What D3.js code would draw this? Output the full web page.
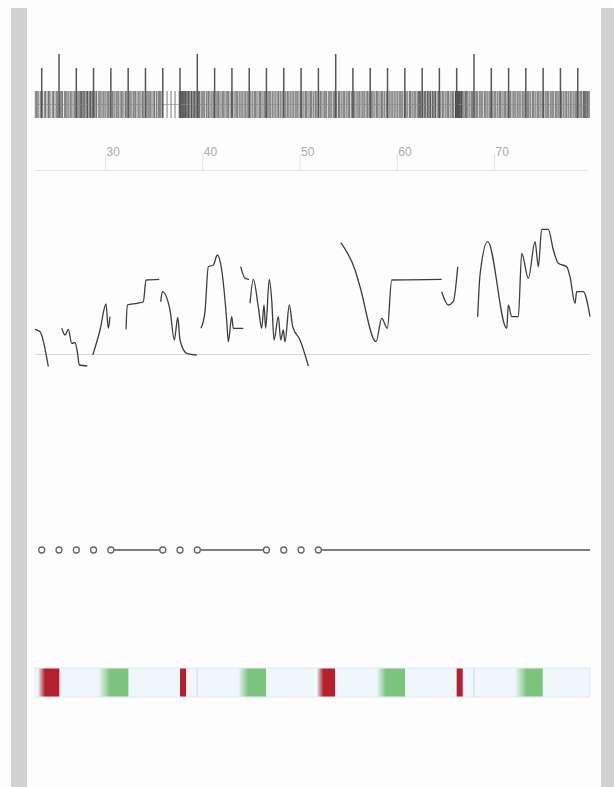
<!DOCTYPE html>
<html>
<head>
<meta charset="utf-8">
<script src="https://cdn.jsdelivr.net/npm/d3@7"></script>
<style>
body { margin: 0; background: #fdfdfd; }
svg { display: block; font-family: "Open Sans", "DejaVu Sans", sans-serif; }
</style>
</head>
<body>
<svg></svg>
<script>
// axis labels
var axisTicks = [30, 40, 50, 60, 70]

// rug of events (dense barcode)
var rugValues = [22.83, 22.95, 23.08, 23.2, 23.38, 23.47, 23.6, 23.79, 23.88, 24.04, 24.19, 24.27, 24.43, 24.62, 24.7, 24.86, 25.03, 25.1, 25.3, 25.41, 25.54, 25.63, 25.82, 25.93, 26.06, 26.19, 26.3, 26.46, 26.58, 26.72, 26.87, 26.99, 27.13, 27.24, 27.35, 27.46, 27.52, 27.6, 27.64, 27.75, 27.83, 27.9, 28.03, 28.12, 28.2, 28.24, 28.37, 28.45, 28.51, 28.58, 28.7, 28.78, 28.9, 29.05, 29.13, 29.31, 29.45, 29.57, 29.7, 29.83, 29.98, 30.1, 30.24, 30.35, 30.49, 30.62, 30.77, 30.91, 31.02, 31.17, 31.31, 31.41, 31.56, 31.69, 31.82, 31.95, 32.11, 32.19, 32.36, 32.5, 32.64, 32.76, 32.91, 33.01, 33.14, 33.29, 33.43, 33.57, 33.7, 33.85, 33.94, 34.11, 34.24, 34.39, 34.5, 34.61, 34.71, 34.84, 35.01, 35.09, 35.26, 35.35, 35.51, 35.61, 35.72, 35.86, 36.38, 36.79, 37.2, 37.62, 37.7, 37.76, 37.81, 37.88, 37.93, 37.97, 38.08, 38.12, 38.16, 38.27, 38.31, 38.35, 38.46, 38.55, 38.6, 38.64, 38.74, 38.86, 38.9, 38.95, 39.06, 39.14, 39.2, 39.28, 39.39, 39.52, 39.61, 39.68, 39.74, 39.89, 40.0, 40.11, 40.24, 40.41, 40.5, 40.64, 40.77, 40.91, 41.02, 41.16, 41.29, 41.43, 41.55, 41.67, 41.81, 41.94, 42.09, 42.2, 42.33, 42.47, 42.61, 42.71, 42.86, 43.0, 43.11, 43.26, 43.39, 43.53, 43.64, 43.79, 43.9, 44.06, 44.17, 44.31, 44.44, 44.59, 44.7, 44.83, 44.94, 45.11, 45.21, 45.36, 45.47, 45.61, 45.74, 45.89, 45.99, 46.13, 46.26, 46.41, 46.51, 46.66, 46.79, 46.93, 47.04, 47.19, 47.29, 47.46, 47.57, 47.71, 47.84, 47.99, 48.09, 48.23, 48.36, 48.51, 48.61, 48.76, 48.89, 49.03, 49.14, 49.31, 49.41, 49.56, 49.67, 49.81, 49.94, 50.09, 50.19, 50.34, 50.46, 50.61, 50.71, 50.86, 50.99, 51.13, 51.24, 51.39, 51.49, 51.64, 51.77, 51.91, 52.01, 52.16, 52.29, 52.43, 52.56, 52.69, 52.79, 52.96, 53.07, 53.21, 53.32, 53.48, 53.59, 53.73, 53.84, 54.01, 54.11, 54.26, 54.37, 54.51, 54.62, 54.78, 54.89, 55.03, 55.14, 55.31, 55.41, 55.56, 55.67, 55.81, 55.94, 56.09, 56.19, 56.33, 56.46, 56.61, 56.71, 56.86, 56.99, 57.13, 57.24, 57.39, 57.49, 57.64, 57.76, 57.91, 58.01, 58.16, 58.29, 58.43, 58.54, 58.69, 58.79, 58.96, 59.07, 59.21, 59.32, 59.48, 59.59, 59.73, 59.84, 60.01, 60.11, 60.26, 60.37, 60.51, 60.62, 60.78, 60.89, 61.03, 61.14, 61.31, 61.41, 61.56, 61.67, 61.81, 61.94, 62.09, 62.19, 62.26, 62.33, 62.4, 62.46, 62.61, 62.66, 62.71, 62.86, 62.92, 62.99, 63.13, 63.19, 63.24, 63.39, 63.44, 63.49, 63.64, 63.7, 63.76, 63.91, 63.96, 64.01, 64.16, 64.29, 64.43, 64.54, 64.69, 64.79, 64.96, 65.07, 65.21, 65.32, 65.48, 65.59, 65.73, 65.84, 66.01, 66.05, 66.08, 66.12, 66.16, 66.22, 66.26, 66.3, 66.36, 66.4, 66.44, 66.5, 66.58, 66.62, 66.65, 66.72, 66.8, 66.91, 67.03, 67.1, 67.16, 67.29, 67.43, 67.54, 67.69, 67.79, 67.96, 68.07, 68.21, 68.32, 68.48, 68.59, 68.73, 68.84, 69.01, 69.11, 69.26, 69.37, 69.51, 69.62, 69.78, 69.89, 70.03, 70.14, 70.31, 70.41, 70.56, 70.67, 70.81, 70.94, 71.09, 71.19, 71.33, 71.46, 71.61, 71.71, 71.86, 71.99, 72.13, 72.24, 72.39, 72.49, 72.64, 72.76, 72.91, 73.01, 73.16, 73.29, 73.43, 73.54, 73.69, 73.79, 73.96, 74.07, 74.21, 74.32, 74.48, 74.59, 74.73, 74.84, 75.01, 75.11, 75.26, 75.37, 75.51, 75.62, 75.78, 75.89, 76.03, 76.14, 76.31, 76.41, 76.56, 76.67, 76.81, 76.94, 77.09, 77.19, 77.33, 77.46, 77.61, 77.71, 77.86, 77.99, 78.13, 78.24, 78.39, 78.49, 78.64, 78.76, 78.91, 79.01, 79.16, 79.22, 79.29, 79.36, 79.43, 79.54, 79.6, 79.69, 79.8]

// regular markers over the rug, the tall ones every 8th
var markerValues = [23.49, 25.27, 27.05, 28.82, 30.60, 32.38, 34.16, 35.94, 37.71, 39.49, 41.27, 43.05, 44.83, 46.60, 48.38, 50.16, 51.94, 53.72, 55.49, 57.27, 59.05, 60.83, 62.61, 64.38, 66.16, 67.94, 69.72, 71.50, 73.27, 75.05, 76.83, 78.61]
var tallMarkers = [25.27, 39.49, 53.72, 67.94]

// line series, null = gap
var lineX = [22.8, 23.32, 24.17, null,
  25.55, 25.89, 26.23, 26.58, 26.92, 27.15, 27.36, 28.18, null,
  28.74, 29.49, 30.10, 30.34, 30.51, null,
  32.16, 32.29, 33.32, 33.94, 34.22, 35.58, null,
  35.73, 35.89, 36.68, 37.13, 37.48, 37.71, 38.40, 39.43, null,
  39.87, 40.28, 40.62, 41.14, 41.55, 42.0, 42.51, 42.68, 43.03, 43.19, 44.22, null,
  43.95, 44.40, 44.81, null,
  44.91, 45.25, 45.76, 46.11, 46.35, 46.52, 46.89, 47.14, 47.38, 47.82, 48.07, 48.33, 48.51, 48.95, 49.30, 50.05, 50.91, null,
  54.24, 55.71, 56.22, 57.87, 58.45, 59.03, 59.48, 64.62, null,
  64.62, 65.30, 65.81, 66.27, null,
  68.32, 68.56, 69.35, 71.31, 71.47, 71.82, 72.50, 72.85, 73.53, 74.22, 74.56, 74.90, 75.58, 76.10, 76.61, 77.48, 77.81, 78.33, 78.50, 79.18, 79.87]
var lineY = [24.7, 22.3, -12.7, null,
  25.7, 19, 24.7, 10.7, 11.3, 2.3, -11, -12, null,
  -1, 24, 50, 25.7, 37.3, null,
  24.7, 49, 50.7, 52.3, 74, 74.7, null,
  52.3, 62.3, 44, 14, 36.7, 14, 0.7, -1, null,
  25.7, 42.3, 87.3, 89, 99, 84, 34, 12.3, 37.3, 25.7, 25.7, null,
  87.3, 75.7, 74.7, null,
  50.7, 74.7, 47.3, 25.7, 49, 25.7, 74.7, 54, 14, 37.3, 14, 24, 12.3, 49, 27.3, 14, -12, null,
  111.3, 84, 67.3, 12.3, 35.7, 25.7, 74, 74.7, null,
  62.3, 49, 52.3, 87.3, null,
  37.3, 79, 112.3, 25.7, 49, 37.3, 37.3, 100.7, 75.7, 112.3, 87.3, 124.7, 124.7, 104, 90.7, 87.3, 77.3, 50.7, 62.3, 62.3, 37.3]

// points and spans on the timeline row
var pointValues = [23.49, 25.27, 27.05, 28.82, 30.60, 35.94, 37.71, 39.49, 46.60, 48.38, 50.16, 51.94]
var spanStart = [30.60, 39.49, 51.94]
var spanEnd = [35.94, 46.60, 79.87]

// heat strip blocks: fade start, solid start, end, kind
var blockFade = [23.1, 29.31, 37.71, 43.71, 51.77, 57.94, 66.16, 72.16]
var blockSolid = [23.83, 30.51, 37.71, 44.74, 52.45, 58.89, 66.16, 73.36]
var blockEnd = [25.30, 32.40, 38.33, 46.56, 53.65, 60.85, 66.78, 75.01]
var blockKind = ["bad", "good", "bad", "good", "bad", "good", "bad", "good"]
var stripDividers = [39.49, 67.94]

var screen = {width: 614, height: 787}
var colors = {bad: "#b51f2e", good: "#7cc37e"}

var svg = d3.select("svg")
  .attr("width", screen.width)
  .attr("height", screen.height)

// grey side panels
svg.append("rect").attr("x", 11).attr("y", 8).attr("width", 16).attr("height", screen.height)
  .attr("fill", "#d2d2d4")
svg.append("rect").attr("x", 601).attr("y", 8).attr("width", 13).attr("height", screen.height)
  .attr("fill", "#d2d2d4")

var xScale = d3.scaleLinear()
  .domain([22.8, 79.87])
  .range([35, 590])

// ---- rug
var rug = svg.append("g")
rug.selectAll("line.ev")
  .data(rugValues)
  .enter()
  .append("line")
  .attr("class", "ev")
  .attr("x1", function(d) { return xScale(d) })
  .attr("x2", function(d) { return xScale(d) })
  .attr("y1", 91)
  .attr("y2", 118)
  .attr("stroke", "#2e2e2e")
  .attr("stroke-opacity", 0.62)
  .attr("stroke-width", 1)

rug.append("line")
  .attr("x1", 35).attr("x2", 590)
  .attr("y1", 104.5).attr("y2", 104.5)
  .attr("stroke", "#888").attr("stroke-opacity", 0.6)

rug.selectAll("line.mk")
  .data(markerValues)
  .enter()
  .append("line")
  .attr("class", "mk")
  .attr("x1", function(d) { return xScale(d) })
  .attr("x2", function(d) { return xScale(d) })
  .attr("y1", function(d) { return tallMarkers.indexOf(d) >= 0 ? 54 : 68 })
  .attr("y2", 118)
  .attr("stroke", "#555")
  .attr("stroke-width", 1.5)

// ---- axis
var axis = d3.axisTop(xScale)
  .tickValues(axisTicks)
  .tickSize(16)
  .tickFormat(d3.format("d"))

var gAxis = svg.append("g")
  .attr("transform", "translate(0,170)")
  .call(axis)
gAxis.select(".domain").remove()
gAxis.selectAll(".tick line").attr("stroke", "#e2e2e2")
gAxis.selectAll(".tick text")
  .attr("fill", "#ababab")
  .attr("font-size", 12)
  .attr("text-anchor", "start")
  .attr("x", 1)
  .attr("y", -14)
  .attr("dy", 0)
gAxis.append("line")
  .attr("x1", 35).attr("x2", 588)
  .attr("y1", 0.5).attr("y2", 0.5)
  .attr("stroke", "#e6e6e6")

// ---- line chart
var yScale = d3.scaleLinear()
  .domain([0, 125])
  .range([354, 229])

var lineData = lineX.map(function(x, i) { return {x: x, y: lineY[i]} })

svg.append("line")
  .attr("x1", 35).attr("x2", 590)
  .attr("y1", yScale(0) + 0.5).attr("y2", yScale(0) + 0.5)
  .attr("stroke", "#d8d8d8")

var line = d3.line()
  .defined(function(d) { return d.y != null })
  .x(function(d) { return xScale(d.x) })
  .y(function(d) { return yScale(d.y) })
  .curve(d3.curveMonotoneX)

svg.append("path")
  .datum(lineData)
  .attr("d", line)
  .attr("fill", "none")
  .attr("stroke", "#3c3c3c")
  .attr("stroke-width", 1.3)

// ---- timeline row
var rowY = 550
svg.selectAll("line.span")
  .data(spanStart)
  .enter()
  .append("line")
  .attr("class", "span")
  .attr("x1", function(d) { return xScale(d) })
  .attr("x2", function(d, i) { return xScale(spanEnd[i]) })
  .attr("y1", rowY).attr("y2", rowY)
  .attr("stroke", "#555")
  .attr("stroke-width", 1.5)

svg.selectAll("circle")
  .data(pointValues)
  .enter()
  .append("circle")
  .attr("cx", function(d) { return xScale(d) })
  .attr("cy", rowY)
  .attr("r", 3)
  .attr("fill", "#fff")
  .attr("stroke", "#666")
  .attr("stroke-width", 1.3)

// ---- heat strip
var stripTop = 668, stripH = 29
var defs = svg.append("defs")
svg.append("rect")
  .attr("x", 35).attr("y", stripTop)
  .attr("width", 555).attr("height", stripH)
  .attr("fill", "#eff7fa")
  .attr("stroke", "#dfeaee")

blockFade.forEach(function(f, i) {
  var id = "fade" + i
  var c = colors[blockKind[i]]
  var g = defs.append("linearGradient").attr("id", id)
    .attr("gradientUnits", "userSpaceOnUse")
    .attr("x1", xScale(f)).attr("x2", xScale(blockSolid[i]))
    .attr("y1", 0).attr("y2", 0)
  g.append("stop").attr("offset", 0).attr("stop-color", c).attr("stop-opacity", 0)
  g.append("stop").attr("offset", 1).attr("stop-color", c).attr("stop-opacity", 1)
})

svg.selectAll("rect.block")
  .data(blockFade)
  .enter()
  .append("rect")
  .attr("class", "block")
  .attr("x", function(d) { return xScale(d) })
  .attr("y", stripTop + 0.5)
  .attr("width", function(d, i) { return xScale(blockEnd[i]) - xScale(d) })
  .attr("height", stripH - 1)
  .attr("fill", function(d, i) {
    return blockSolid[i] > d ? "url(#fade" + i + ")" : colors[blockKind[i]]
  })

svg.selectAll("line.div")
  .data(stripDividers)
  .enter()
  .append("line")
  .attr("class", "div")
  .attr("x1", function(d) { return xScale(d) })
  .attr("x2", function(d) { return xScale(d) })
  .attr("y1", stripTop).attr("y2", stripTop + stripH)
  .attr("stroke", "#d6e3e8")
  .attr("stroke-width", 1.5)
</script>
</body>
</html>
